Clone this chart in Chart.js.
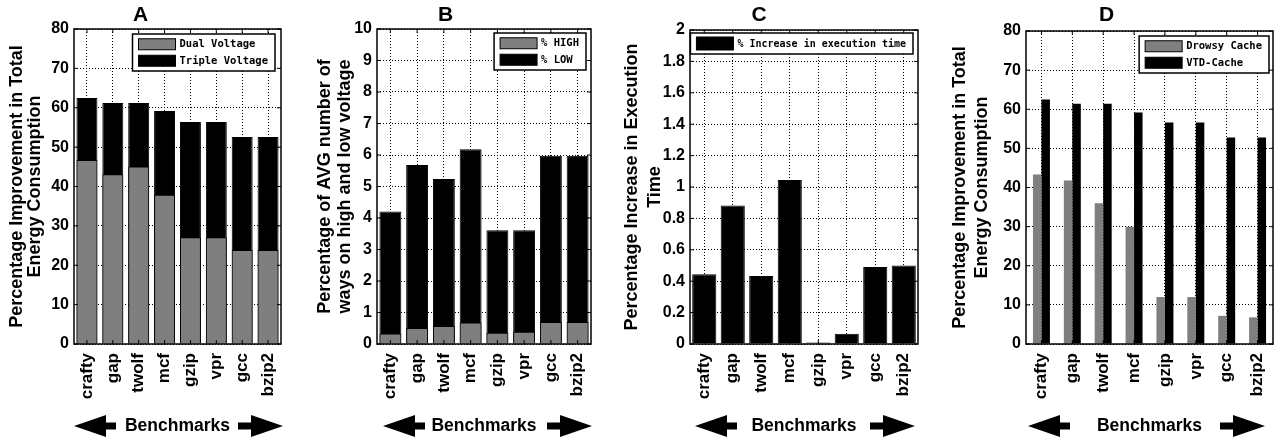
<!DOCTYPE html>
<html>
<head>
<meta charset="utf-8">
<script src="https://cdn.jsdelivr.net/npm/chart.js@4.4.1/dist/chart.umd.min.js"></script>
<style>
  html, body { margin: 0; padding: 0; background: #fff; overflow: hidden; }
  #wrap { position: relative; width: 1282px; height: 442px; overflow: hidden; }
  canvas { position: absolute; top: 0; }
</style>
</head>
<body>
<div id="wrap">
  <canvas id="chartA" width="380" height="442" style="left:0px"></canvas>
  <canvas id="chartB" width="384" height="442" style="left:300px"></canvas>
  <canvas id="chartC" width="430" height="442" style="left:600px"></canvas>
  <canvas id="chartD" width="440" height="442" style="left:940px"></canvas>
</div>
<script>
// values
const benchmarks = ['crafty', 'gap', 'twolf', 'mcf', 'gzip', 'vpr', 'gcc', 'bzip2'];

// A: stacked look (gray drawn over black total)
const dualVoltage   = [46.7, 43.1, 45.1, 37.9, 27.1, 27.1, 23.9, 23.9];
const tripleVoltage = [62.5, 61.2, 61.2, 59.2, 56.4, 56.4, 52.6, 52.6];

// B: % of ways on high / low voltage (low = bar top)
const highWays = [0.33, 0.51, 0.57, 0.68, 0.36, 0.39, 0.70, 0.70];
const lowWays  = [4.21, 5.68, 5.24, 6.18, 3.61, 3.61, 5.98, 5.98];

// C: % increase in execution time
const execIncrease = [0.445, 0.882, 0.433, 1.045, 0.01, 0.066, 0.49, 0.50];

// D: drowsy vs VTD
const drowsyCache = [43.3, 41.8, 36.0, 30.0, 12.0, 12.0, 7.2, 6.8];
const vtdCache    = [62.5, 61.4, 61.4, 59.2, 56.6, 56.6, 52.8, 52.8];

const GRAY = '#7f7f7f';
const BLACK = '#000000';

Chart.defaults.font.family = '"Liberation Sans", Arial, Helvetica, sans-serif';
Chart.defaults.color = '#000';
Chart.defaults.animation = false;

// box around the plot + small inward ticks (matlab style)
const framePlugin = {
  id: 'frame',
  afterDatasetsDraw(chart) {
    const {ctx, chartArea: a, scales: {x, y}} = chart;
    ctx.save();
    ctx.strokeStyle = '#000';
    ctx.lineWidth = 1;
    ctx.beginPath();
    y.ticks.forEach((t, i) => {
      const py = y.getPixelForTick(i);
      ctx.moveTo(a.left, py); ctx.lineTo(a.left + 4, py);
      ctx.moveTo(a.right, py); ctx.lineTo(a.right - 4, py);
    });
    x.ticks.forEach((t, i) => {
      const px = x.getPixelForTick(i);
      ctx.moveTo(px, a.bottom); ctx.lineTo(px, a.bottom - 4);
      ctx.moveTo(px, a.top); ctx.lineTo(px, a.top + 4);
    });
    ctx.stroke();
    ctx.lineWidth = 1.5;
    ctx.strokeRect(a.left, a.top, a.width, a.height);
    ctx.restore();
  }
};

// legend box inside the top right corner
const boxLegend = {
  id: 'boxLegend',
  afterDraw(chart, args, opts) {
    const {ctx, chartArea: a} = chart;
    const sets = chart.data.datasets;
    ctx.save();
    ctx.font = 'bold ' + (opts.fontSize || 10.5) + 'px "DejaVu Sans Mono", "Liberation Mono", monospace';
    const tw = Math.max(...sets.map(d => ctx.measureText(d.label).width));
    const sw = 37, rowH = opts.rowH || 16.5, sh = opts.swatchH || 11;
    const w = 6 + sw + 4 + tw + 7;
    const h = sets.length * rowH + 4;
    const x = a.right - opts.dx - w;
    const y = a.top + opts.dy;
    ctx.fillStyle = '#fff';
    ctx.fillRect(x, y, w, h);
    ctx.strokeStyle = '#000';
    ctx.lineWidth = 1.5;
    ctx.strokeRect(x, y, w, h);
    sets.forEach((d, i) => {
      const cy = y + 2 + rowH * (i + 0.5);
      ctx.fillStyle = d.backgroundColor;
      ctx.fillRect(x + 6, cy - sh / 2, sw, sh);
      ctx.lineWidth = 1;
      ctx.strokeRect(x + 6, cy - sh / 2, sw, sh);
      ctx.fillStyle = '#000';
      ctx.textBaseline = 'middle';
      ctx.fillText(d.label, x + 6 + sw + 4, cy + 0.5);
    });
    ctx.restore();
  }
};

// the two fat arrows either side of "Benchmarks"
function drawArrow(ctx, tipX, tailX, cy) {
  const dir = Math.sign(tailX - tipX);
  const headL = 32, headH = 11, shaft = 3.5;
  const baseX = tipX + dir * headL;
  ctx.beginPath();
  ctx.moveTo(tipX, cy);
  ctx.lineTo(baseX, cy - headH);
  ctx.lineTo(baseX, cy - shaft);
  ctx.lineTo(tailX, cy - shaft);
  ctx.lineTo(tailX, cy + shaft);
  ctx.lineTo(baseX, cy + shaft);
  ctx.lineTo(baseX, cy + headH);
  ctx.closePath();
  ctx.fill();
}

const arrowsPlugin = {
  id: 'arrows',
  afterDraw(chart, args, opts) {
    const {ctx, chartArea: a} = chart;
    const cy = chart.height - 16;
    ctx.save();
    ctx.fillStyle = '#000';
    drawArrow(ctx, a.left + opts.l, a.left + opts.l + 42, cy);
    drawArrow(ctx, a.right + opts.r, a.right + opts.r - 45, cy);
    ctx.restore();
  }
};

function makeChart(id, p) {
  return new Chart(document.getElementById(id), {
    type: 'bar',
    data: { labels: benchmarks, datasets: p.datasets },
    plugins: [framePlugin, boxLegend, arrowsPlugin],
    options: {
      responsive: false,
      layout: { padding: { left: 0, right: p.padRight, top: 0, bottom: 0 } },
      scales: {
        x: {
          stacked: p.overlap,
          grid: { offset: false, drawTicks: false, color: '#000', lineWidth: 1 },
          border: { display: false, dash: [1, 2] },
          ticks: {
            autoSkip: false, maxRotation: 90, minRotation: 90, padding: 9,
            font: { size: 17, weight: 'bold' }
          },
          title: {
            display: true, text: 'Benchmarks',
            font: { size: 17.5, weight: 'bold' },
            padding: { top: 0, bottom: 5.5 }
          },
          afterFit: s => { s.height = 98; }
        },
        y: {
          stacked: false,
          min: 0, max: p.yMax,
          grid: { drawTicks: false, color: '#000', lineWidth: 1 },
          border: { display: false, dash: [1, 2] },
          ticks: {
            stepSize: p.step, padding: 5,
            font: { size: 16, weight: 'bold' },
            callback: v => String(+v.toFixed(1))
          },
          title: {
            display: true, text: p.yTitle,
            font: { size: 18, weight: 'bold', lineHeight: p.titleLH },
            padding: { top: p.titlePad, bottom: 0 }
          },
          afterFit: s => { s.width = p.yWidth; }
        }
      },
      plugins: {
        legend: { display: false },
        tooltip: { enabled: false },
        title: {
          display: true, text: p.title,
          font: { size: 21, weight: 'bold' },
          padding: { top: 3, bottom: p.top - 28.2 }
        },
        boxLegend: p.legend,
        arrows: p.arrows
      }
    }
  });
}

const chartA = makeChart('chartA', {
  title: 'A',
  top: 29, padRight: 99, yWidth: 74, yMax: 80, step: 10,
  yTitle: ['Percentage Improvement in Total', 'Energy Consumption'],
  titleLH: 18 / 18, titlePad: 8,
  overlap: true,
  legend: { dx: 6, dy: 5 },
  arrows: { l: 0, r: 2 },
  datasets: [
    { label: 'Dual Voltage', data: dualVoltage, backgroundColor: GRAY,
      borderColor: BLACK, borderWidth: 1, barPercentage: 0.9, categoryPercentage: 0.9 },
    { label: 'Triple Voltage', data: tripleVoltage, backgroundColor: BLACK,
      borderColor: BLACK, borderWidth: 1, barPercentage: 0.9, categoryPercentage: 0.9 }
  ]
});

const chartB = makeChart('chartB', {
  title: 'B',
  top: 29, padRight: 93, yWidth: 77, yMax: 10, step: 1,
  yTitle: ['Percentage of AVG number of', 'ways on high and low voltage'],
  titleLH: 20 / 18, titlePad: 15,
  overlap: true,
  legend: { dx: 5, dy: 4 },
  arrows: { l: 6, r: 1 },
  datasets: [
    { label: '% HIGH', data: highWays, backgroundColor: GRAY,
      borderColor: BLACK, borderWidth: 1, barPercentage: 0.9, categoryPercentage: 0.91 },
    { label: '% LOW', data: lowWays, backgroundColor: BLACK,
      borderColor: BLACK, borderWidth: 1, barPercentage: 0.9, categoryPercentage: 0.91 }
  ]
});

const chartC = makeChart('chartC', {
  title: 'C',
  top: 30, padRight: 112, yWidth: 90, yMax: 2, step: 0.2,
  yTitle: ['Percentage Increase in Execution', 'Time'],
  titleLH: 23 / 18, titlePad: 20.5,
  overlap: false,
  legend: { dx: 5, dy: 3, fontSize: 10, rowH: 17, swatchH: 13 },
  arrows: { l: 5, r: -3 },
  datasets: [
    { label: '% Increase in execution time', data: execIncrease, backgroundColor: BLACK,
      borderColor: BLACK, borderWidth: 1, barPercentage: 0.92, categoryPercentage: 0.92 }
  ]
});

const chartD = makeChart('chartD', {
  title: 'D',
  top: 31, padRight: 107, yWidth: 86, yMax: 80, step: 10,
  yTitle: ['Percentage Improvement in Total', 'Energy Consumption'],
  titleLH: 22 / 18, titlePad: 9,
  overlap: false,
  legend: { dx: 4, dy: 5 },
  arrows: { l: 2, r: -8 },
  datasets: [
    { label: 'Drowsy Cache', data: drowsyCache, backgroundColor: GRAY,
      borderWidth: 0, barPercentage: 1.0, categoryPercentage: 0.55 },
    { label: 'VTD-Cache', data: vtdCache, backgroundColor: BLACK,
      borderWidth: 0, barPercentage: 1.0, categoryPercentage: 0.55 }
  ]
});
</script>
</body>
</html>
